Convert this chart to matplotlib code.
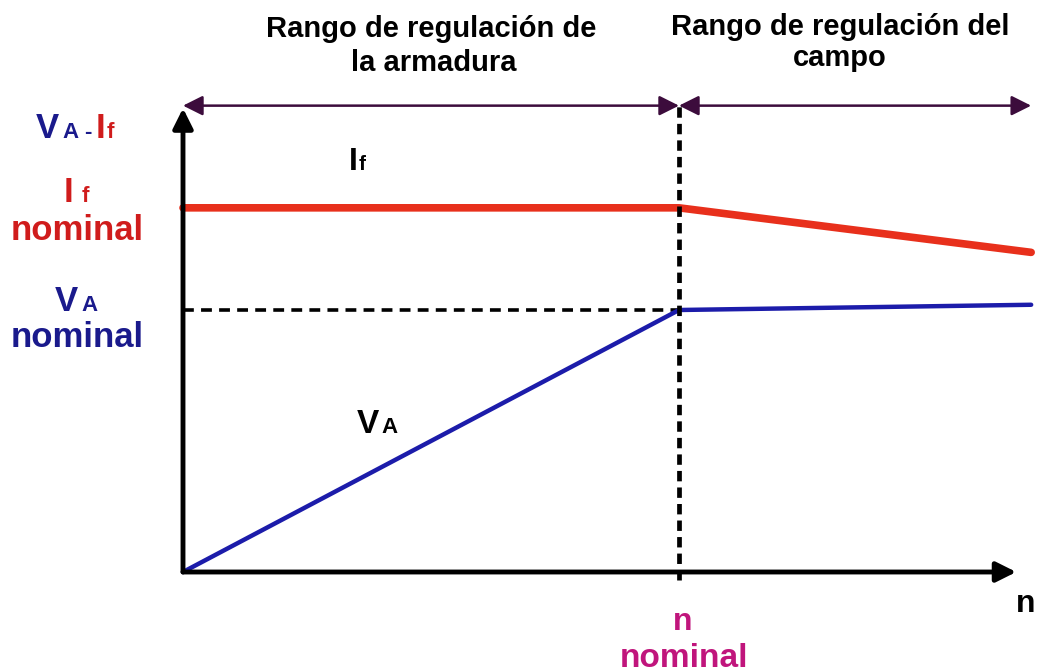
import matplotlib
matplotlib.use("Agg")
import matplotlib.pyplot as plt

plt.rcParams['font.family'] = ['Liberation Sans', 'DejaVu Sans']
plt.rcParams['font.weight'] = 'bold'

# ---- Data (n normalised to n nominal = 1, VA nominal = 1) ----
n_vals = [0.0, 1.0, 1.71]
va_vals = [0.0, 1.0, 1.02]
if_vals = [1.39, 1.39, 1.22]
n_nom = 1.0
va_nom = 1.0
range_top = 1.78
axis_x_end = 1.68
axis_y_end = 1.77

W, H = 1037, 672
fig = plt.figure(figsize=(W / 100, H / 100), dpi=100)
ax = fig.add_axes([0, 0, 1, 1])
ax.set_xlim(-183 / 496, (W - 183) / 496)
ax.set_ylim(-(H - 572) / 262, 572 / 262)
ax.axis('off')

red = '#e8301c'
blue = '#1c1caa'
lab_blue = '#1a1a8c'
lab_red = '#d01c1c'
magenta = '#c0157c'
purple = '#3c0c3c'

# ---- Curves ----
ax.plot(n_vals, if_vals, color=red, lw=5.5, solid_capstyle='round', zorder=3)
ax.plot(n_vals, va_vals, color=blue, lw=3.2, solid_capstyle='round', zorder=3)

# ---- Dashed guides ----
ax.plot([0, n_nom], [va_nom, va_nom], color='black', lw=2.6, ls=(0, (3, 2)), zorder=2)
ax.plot([n_nom, n_nom], [-0.03, range_top], color='black', lw=3.4, ls=(0, (2.2, 1.3)), zorder=4)

# ---- Axes arrows ----
ax.annotate('', xy=(0, axis_y_end), xytext=(0, 0),
            arrowprops=dict(arrowstyle='-|>', color='black', lw=3.5,
                            mutation_scale=30, shrinkA=0, shrinkB=0), zorder=5)
ax.annotate('', xy=(axis_x_end, 0), xytext=(0, 0),
            arrowprops=dict(arrowstyle='-|>', color='black', lw=3.5,
                            mutation_scale=30, shrinkA=0, shrinkB=0), zorder=5)

# ---- Range arrows ----
for a, b in [(0, n_nom), (n_nom, n_vals[-1])]:
    ax.annotate('', xy=(b, range_top), xytext=(a, range_top),
                arrowprops=dict(arrowstyle='<|-|>', color=purple, lw=1.8,
                                mutation_scale=30, shrinkA=0, shrinkB=0), zorder=4)


def t(x, y, s, **kw):
    fig.text(x / W, 1 - y / H, s, va='baseline', **kw)


# ---- Titles ----
t(431, 37, 'Rango de regulación de', ha='center', fontsize=21, color='black')
t(434, 71, 'la armadura', ha='center', fontsize=21, color='black')
t(840, 35, 'Rango de regulación del', ha='center', fontsize=21, color='black')
t(840, 66, 'campo', ha='center', fontsize=21, color='black')

# ---- Left labels ----
t(36, 138, 'V', ha='left', fontsize=25, color=lab_blue)
t(62, 138, 'A', ha='left', fontsize=16, color=lab_blue)
t(84, 138, '-', ha='left', fontsize=16, color=lab_blue)
t(96, 138, 'I', ha='left', fontsize=25, color=lab_red)
t(107, 138, 'f', ha='left', fontsize=16, color=lab_red)

t(64, 202, 'I', ha='left', fontsize=25, color=lab_red)
t(82, 202, 'f', ha='left', fontsize=16, color=lab_red)
t(77, 240, 'nominal', ha='center', fontsize=25, color=lab_red)

t(55, 311, 'V', ha='left', fontsize=25, color=lab_blue)
t(81, 311, 'A', ha='left', fontsize=16, color=lab_blue)
t(77, 347, 'nominal', ha='center', fontsize=25, color=lab_blue)

# ---- Curve labels ----
t(349, 170, 'I', ha='left', fontsize=23, color='black')
t(359, 170, 'f', ha='left', fontsize=15, color='black')
t(357, 433, 'V', ha='left', fontsize=24, color='black')
t(381, 433, 'A', ha='left', fontsize=16, color='black')

# ---- n labels ----
t(1026, 612, 'n', ha='center', fontsize=23, color='black')
t(683, 630, 'n', ha='center', fontsize=23, color=magenta)
t(684, 667, 'nominal', ha='center', fontsize=24, color=magenta)

fig.savefig('out.png', dpi=100, facecolor='white')
